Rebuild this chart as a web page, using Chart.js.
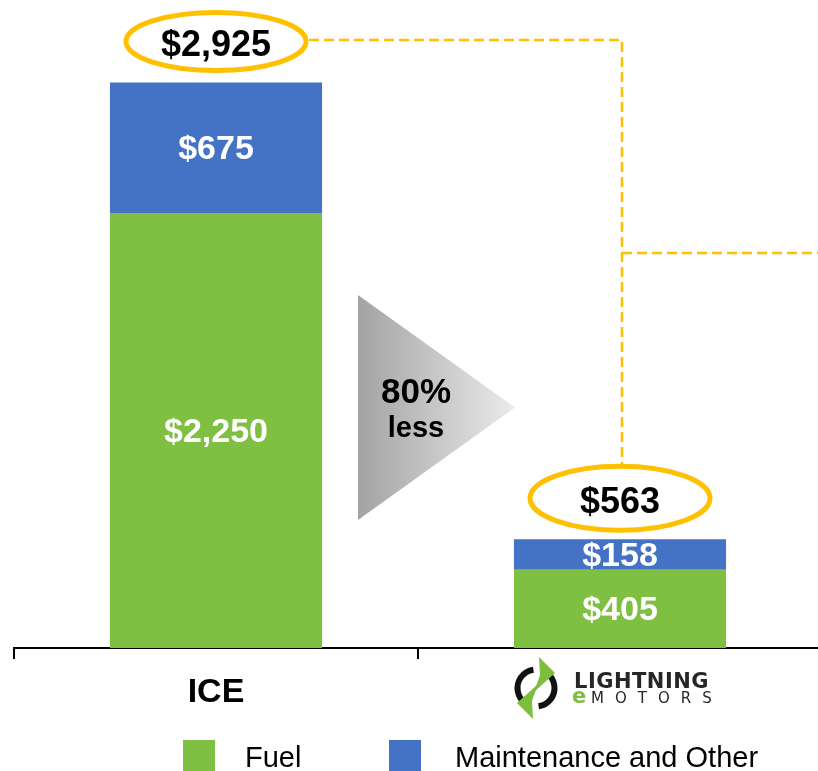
<!DOCTYPE html>
<html>
<head>
<meta charset="utf-8">
<script src="https://cdn.jsdelivr.net/npm/chart.js@4.4.1/dist/chart.umd.min.js"></script>
<style>
  html, body { margin: 0; padding: 0; background: #fff; overflow: hidden; }
  #wrap { width: 836px; height: 771px; }
</style>
</head>
<body>
<div id="wrap"><canvas id="costChart" width="836" height="771"></canvas></div>
<script>
// === Data ===
const categories = ['ICE', 'Lightning eMotors'];
const seriesNames = ['Fuel', 'Maintenance and Other'];
const fuelCost = [2250, 405];
const maintenanceCost = [675, 158];
const savingsText = ['80%', 'less'];

const GREEN = '#7FBF41';
const BLUE = '#4472C4';
const GOLD = '#FFC000';
const FONT = '"Liberation Sans", Arial, sans-serif';

const money = v => '$' + v.toLocaleString('en-US');

// === Logo for the second category ===
function drawLogo(ctx, cx, cy) {
  ctx.save();
  // ring
  ctx.strokeStyle = '#111';
  ctx.lineWidth = 6;
  const r = 18.5;
  const rad = d => d * Math.PI / 180;
  ctx.beginPath();
  ctx.arc(cx, cy, r, rad(125), rad(262));
  ctx.stroke();
  ctx.beginPath();
  ctx.arc(cx, cy, r, rad(-52), rad(82));
  ctx.stroke();
  // green bolts
  ctx.fillStyle = '#7DBE3C';
  const bolt = (s) => {
    ctx.beginPath();
    ctx.moveTo(cx + s * 3, cy - s * 31);
    ctx.lineTo(cx + s * 19, cy - s * 15);
    ctx.lineTo(cx - s * 2, cy + s * 4);
    ctx.lineTo(cx + s * 4, cy - s * 13);
    ctx.closePath();
    ctx.fill();
  };
  bolt(1);
  bolt(-1);

  // wordmark
  ctx.textAlign = 'left';
  ctx.textBaseline = 'alphabetic';
  ctx.fillStyle = '#262626';
  ctx.font = 'bold 21px "DejaVu Sans", sans-serif';
  ctx.letterSpacing = '0.5px';
  ctx.fillText('LIGHTNING', cx + 38, cy);
  ctx.letterSpacing = '0px';
  ctx.fillStyle = '#7DBE3C';
  ctx.font = 'bold 21px "DejaVu Sans", sans-serif';
  ctx.fillText('e', cx + 36, cy + 15);
  ctx.fillStyle = '#262626';
  ctx.font = '15px "DejaVu Sans", sans-serif';
  ctx.letterSpacing = '11px';
  ctx.fillText('MOTORS', cx + 55, cy + 15);
  ctx.letterSpacing = '0px';
  ctx.restore();
}

// === Annotations: labels, totals, arrow, connector, legend ===
const annotations = {
  id: 'annotations',
  afterDraw(chart) {
    const ctx = chart.ctx;
    const metaFuel = chart.getDatasetMeta(0);
    const metaMaint = chart.getDatasetMeta(1);
    const xScale = chart.scales.x;

    ctx.save();
    // segment labels
    ctx.fillStyle = '#fff';
    ctx.font = 'bold 34px ' + FONT;
    ctx.textAlign = 'center';
    ctx.textBaseline = 'middle';
    [metaFuel, metaMaint].forEach((meta, di) => {
      const values = di === 0 ? fuelCost : maintenanceCost;
      meta.data.forEach((bar, i) => {
        ctx.fillText(money(values[i]), bar.x, (bar.y + bar.base) / 2 + 2);
      });
    });

    // totals with gold ellipses
    const ellipses = [];
    metaMaint.data.forEach((bar, i) => {
      const total = fuelCost[i] + maintenanceCost[i];
      const ty = bar.y - 37;
      const ex = bar.x, ey = ty - 4;
      const rx = 90, ry = i === 0 ? 29 : 32;
      ellipses.push({ x: ex, y: ey, rx, ry });
      ctx.strokeStyle = GOLD;
      ctx.lineWidth = 5;
      ctx.beginPath();
      ctx.ellipse(ex, ey, rx, ry, 0, 0, Math.PI * 2);
      ctx.stroke();
      ctx.fillStyle = '#000';
      ctx.font = 'bold 36px ' + FONT;
      ctx.fillText(money(total), bar.x, ty + 1);
    });

    // dashed connector
    const a = ellipses[0], b = ellipses[1];
    const vx = b.x + 2;
    ctx.strokeStyle = GOLD;
    ctx.lineWidth = 2.5;
    ctx.setLineDash([10, 5]);
    ctx.beginPath();
    ctx.moveTo(a.x + a.rx + 3, 40);
    ctx.lineTo(vx, 40);
    ctx.lineTo(vx, b.y - b.ry - 2);
    ctx.moveTo(vx, 253);
    ctx.lineTo(chart.width, 253);
    ctx.stroke();
    ctx.setLineDash([]);

    // gray arrow between the bars
    const mid = (xScale.getPixelForValue(0) + xScale.getPixelForValue(1)) / 2;
    const left = mid - 60, tip = mid + 97, top = 295, bottom = 520;
    const grad = ctx.createLinearGradient(left, 0, tip, 0);
    grad.addColorStop(0, '#A3A3A3');
    grad.addColorStop(1, '#EBEBEB');
    ctx.fillStyle = grad;
    ctx.beginPath();
    ctx.moveTo(left, top);
    ctx.lineTo(tip, (top + bottom) / 2);
    ctx.lineTo(left, bottom);
    ctx.closePath();
    ctx.fill();
    ctx.fillStyle = '#000';
    ctx.textBaseline = 'alphabetic';
    ctx.font = 'bold 35px ' + FONT;
    ctx.fillText(savingsText[0], mid - 2, 403);
    ctx.font = 'bold 29px ' + FONT;
    ctx.fillText(savingsText[1], mid - 2, 437);

    // logo under second category
    drawLogo(ctx, metaMaint.data[1].x - 84, 688);

    // legend
    const legendItems = [
      { box: 183, text: 245, color: GREEN, label: seriesNames[0] },
      { box: 389, text: 455, color: BLUE, label: seriesNames[1] }
    ];
    ctx.font = '29px ' + FONT;
    ctx.textAlign = 'left';
    legendItems.forEach(it => {
      ctx.fillStyle = it.color;
      ctx.fillRect(it.box, 740, 32, 32);
      ctx.fillStyle = '#000';
      ctx.fillText(it.label, it.text, 767);
    });
    ctx.restore();
  }
};

new Chart(document.getElementById('costChart').getContext('2d'), {
  type: 'bar',
  data: {
    labels: categories,
    datasets: [
      { label: seriesNames[0], data: fuelCost, backgroundColor: GREEN, borderWidth: 0 },
      { label: seriesNames[1], data: maintenanceCost, backgroundColor: BLUE, borderWidth: 0 }
    ]
  },
  options: {
    responsive: false,
    animation: false,
    layout: { padding: { left: 14, right: 14, top: 68, bottom: 0 } },
    categoryPercentage: 1,
    barPercentage: 0.525,
    plugins: {
      legend: { display: false },
      tooltip: { enabled: false },
      title: { display: false }
    },
    scales: {
      x: {
        stacked: true,
        offset: true,
        grid: {
          display: true,
          offset: true,
          drawOnChartArea: false,
          drawTicks: true,
          tickLength: 11,
          color: '#000',
          lineWidth: 2
        },
        border: { display: true, color: '#000', width: 2 },
        ticks: {
          color: '#000',
          padding: 13,
          maxRotation: 0,
          font: { family: FONT, size: 34, weight: 'bold' },
          callback: (v, i) => i === 0 ? categories[0] : ''
        },
        afterFit: scale => { scale.height = 123; }
      },
      y: {
        stacked: true,
        display: false,
        min: 0,
        max: 3000
      }
    }
  },
  plugins: [annotations]
});
</script>
</body>
</html>
